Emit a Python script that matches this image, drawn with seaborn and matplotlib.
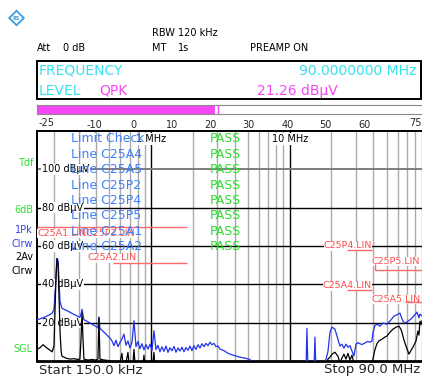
import matplotlib
matplotlib.use("Agg")
import matplotlib.pyplot as plt
import matplotlib.transforms as mtransforms
from matplotlib.patches import Rectangle, Polygon
import pandas as pd
import seaborn as sns

# ---------------- receiver readout ----------------
rbw_label = "RBW 120 kHz"
att_label = ("Att", "0 dB")
mt_label = ("MT", "1s")
preamp_label = "PREAMP ON"
marker_freq_text = "90.0000000 MHz"
marker_detector = "QPK"
marker_level = 21.26          # dBµV, also drives the level bar
marker_level_max = 22.0       # max-hold tick on the level bar
bar_scale_ticks = [-20, -10, 0, 10, 20, 30, 40, 50, 60, 70]
bar_scale_labels = ["", "-10", "0", "10", "20", "30", "40", "50", "60", ""]
bar_range = (-25, 75)

# ---------------- limit check table ----------------
check_rows = ["Limit Check", "Line C25A4", "Line C25A5", "Line C25P2",
              "Line C25P4", "Line C25P5", "Line C25A1", "Line C25A2"]
check_results = ["PASS", "PASS", "PASS", "PASS", "PASS", "PASS", "PASS", "PASS"]

# ---------------- axes grid ----------------
level_grid = [20, 40, 60, 80, 100]
level_grid_labels = ["20 dBµV", "40 dBµV", "60 dBµV", "80 dBµV", "100 dBµV"]
freq_grid_minor = [0.2, 0.3, 0.4, 0.5, 0.6, 0.7, 0.8, 0.9,
                   2, 3, 4, 5, 6, 7, 8, 9,
                   20, 30, 40, 50, 60, 70, 80, 90]
freq_grid_major = [1, 10]
freq_grid_major_labels = ["1 MHz", "10 MHz"]

# ---------------- limit lines (MHz, dBµV) ----------------
lim_c25a1_freq = [0.15, 1.8]
lim_c25a1_level = [70, 70]
lim_c25a2_freq = [0.53, 1.8]
lim_c25a2_level = [51, 51]
lim_c25p4_freq = [26.0, 39.2]
lim_c25p4_level = [57.8, 57.8]
lim_c25a4_freq = [26.0, 39.2]
lim_c25a4_level = [36.9, 36.9]
lim_c25p5_freq = [41.2, 41.2, 90]
lim_c25p5_level = [50.5, 47.4, 47.4]
lim_c25a5_freq = [67.8, 90]
lim_c25a5_level = [30.7, 30.7]

# ---------------- traces: 1Pk Clrw (peak) ----------------
peak_freq_mhz = [
    0.150, 0.158, 0.166, 0.174, 0.183, 0.193, 0.199, 0.202, 0.206, 0.209,
    0.213, 0.216, 0.220, 0.227, 0.235, 0.243, 0.251, 0.260, 0.268, 0.277,
    0.287, 0.296, 0.306, 0.312, 0.317, 0.322, 0.327, 0.339, 0.350, 0.362,
    0.374, 0.387, 0.400, 0.413, 0.420, 0.427, 0.442, 0.457, 0.472, 0.488,
    0.504, 0.521, 0.539, 0.557, 0.576, 0.595, 0.615, 0.636, 0.658, 0.680,
    0.703, 0.727, 0.751, 0.777, 0.803, 0.830, 0.858, 0.887, 0.917, 0.948,
    0.980, 1.013, 1.047, 1.083, 1.119, 1.157, 1.196, 1.237, 1.279, 1.322,
    1.366, 1.413, 1.460, 1.510, 1.561, 1.613, 1.668, 1.724, 1.783, 1.843,
    1.905, 1.970, 2.036, 2.105, 2.176, 2.250, 2.326, 2.404, 2.486, 2.570,
    2.657, 2.747, 2.839, 2.935, 3.034, 3.137, 3.352, 3.583, 3.829, 4.092,
    4.373, 4.752, 5.164, 5.424,
    13.09, 13.31, 13.53, 14.95, 15.20, 15.45, 17.36, 18.87, 19.50, 20.16,
    21.19, 22.27, 23.02, 23.80, 24.61, 25.44, 26.30, 27.19, 28.11, 29.05,
    30.04, 31.05, 32.10, 33.20, 34.88, 36.40, 37.91, 39.19, 39.85, 41.19,
    42.58, 44.76, 47.04, 50.27, 52.84, 56.47, 60.35, 62.39, 64.49, 66.68,
    70.08, 73.66, 78.73, 82.74, 85.55, 86.98, 90.0,
]
peak_level_dbuv = [
    21.5, 22.0, 22.6, 23.2, 24.0, 25.0, 27.0, 33.0, 45.0, 53.5,
    52.5, 42.0, 31.0, 27.5, 27.0, 26.5, 26.0, 25.4, 24.9, 24.3,
    23.8, 23.2, 22.8, 24.5, 27.0, 24.0, 21.5, 21.0, 20.4, 19.8,
    19.2, 18.6, 18.0, 17.4, 23.0, 17.0, 16.0, 15.0, 14.0, 13.0,
    12.0, 10.5, 8.0, 10.8, 7.5, 9.6, 11.5, 14.0, 8.2, 10.5,
    6.8, 9.8, 21.0, 7.5, 10.2, 6.4, 9.0, 5.8, 8.6, 6.2,
    8.8, 5.5, 15.8, 6.0, 8.2, 4.8, 7.4, 5.0, 7.8, 4.5,
    6.9, 5.3, 7.6, 4.6, 6.8, 5.2, 7.2, 4.8, 7.0, 5.6,
    7.8, 5.4, 8.0, 6.0, 8.5, 6.8, 9.0, 7.5, 9.2, 8.0,
    9.8, 8.5, 9.2, 7.5, 7.8, 6.2, 5.4, 4.0, 3.2, 2.6,
    2.0, 1.5, 0.8, -5.0,
    -5.0, 17.0, -5.0, -5.0, 12.5, -5.0, -5.0, 5.0, 15.0, 17.7,
    16.6, 11.4, 7.8, 8.8, 6.7, 8.8, 7.2, 8.0, 5.2, 2.6,
    8.8, 9.6, 9.0, 8.6, 9.4, 10.2, 9.8, 10.4, 15.0, 18.5,
    19.2, 18.2, 19.8, 19.2, 20.8, 23.4, 24.4, 25.0, 22.0, 19.8,
    20.3, 21.5, 23.5, 25.5, 22.5, 24.5, 23.5,
]

# ---------------- traces: 2Av Clrw (average) ----------------
avg_freq_mhz = [
    0.150, 0.158, 0.166, 0.174, 0.183, 0.193, 0.199, 0.202, 0.206, 0.209,
    0.213, 0.216, 0.220, 0.224, 0.227, 0.235, 0.243, 0.260, 0.277, 0.296,
    0.306, 0.312, 0.317, 0.322, 0.327, 0.350, 0.374, 0.400, 0.413, 0.420,
    0.427, 0.457, 0.488, 0.521, 0.595, 0.615, 0.625, 0.658, 0.680, 0.691,
    0.739, 0.751, 0.764, 0.874, 0.887, 0.900, 1.030, 1.047, 1.065,
    18.0, 18.87, 19.50, 20.16, 21.19, 22.27, 23.02, 23.80, 24.61, 25.44,
    26.30, 27.19, 28.11, 29.05, 30.04, 38.5, 39.85, 41.19, 42.58, 44.02,
    46.27, 48.63, 50.27, 52.84, 55.54, 58.39, 61.36, 63.44, 64.49, 66.68,
    68.93, 71.26, 72.44, 74.90, 77.43, 81.39, 84.14, 85.55, 86.98, 88.45,
    90.0,
]
avg_level_dbuv = [
    6.0, 7.0, 8.5, 7.2, 6.0, 4.8, 8.0, 25.0, 45.0, 53.5,
    50.0, 35.0, 15.0, 5.0, 2.5, 2.0, 1.5, 1.0, 1.2, 0.8,
    1.0, 12.0, 25.0, 12.0, 1.0, 0.5, 0.8, 0.5, 1.0, 22.5,
    1.0, 0.5, 0.3, -1.0, -1.0, 4.0, -1.0, -1.0, 4.5, -1.0,
    -1.0, 6.0, -1.0, -1.0, 3.0, -1.0, -1.0, 4.5, -3.0,
    -3.0, 1.0, 2.0, 3.5, 4.6, 2.5, -1.0, 1.5, 3.6, 1.0,
    4.0, 0.5, 3.0, -1.0, -3.0, -3.0, 1.0, 6.0, 9.0, 10.5,
    11.4, 12.5, 13.0, 15.0, 16.6, 17.6, 18.2, 16.5, 15.0, 11.0,
    7.8, 5.0, 3.6, 5.5, 7.2, 10.4, 15.6, 13.5, 20.8, 19.0,
    21.0,
]

# ---------------- colours ----------------
CYAN = "#35e2f2"
MAGENTA = "#f548f5"
TEXT_BLUE = "#3f80ff"
GREEN = "#2fdc2f"
RED = "#ff4a4a"
RED_LINE = "#ff6a6a"
TRACE_BLUE = "#2233ee"
GRID_GREY = "#ababab"

sns.set_style("white")
plt.rcParams["font.family"] = ["DejaVu Sans"]
plt.rcParams["axes.unicode_minus"] = False

W, H = 422, 377
fig = plt.figure(figsize=(W / 100, H / 100), dpi=100)
fig.patch.set_facecolor("white")


def fx(x):
    return x / W


def fy(y):
    return 1 - y / H


# ---------------- logo ----------------
cx, cy, r = 16.5, 18.0, 8.5
fig.add_artist(Polygon([(fx(cx - r), fy(cy)), (fx(cx), fy(cy - r)), (fx(cx + r), fy(cy)), (fx(cx), fy(cy + r))],
                       closed=True, transform=fig.transFigure, fc="#3a9ae0", ec="none"))
r2 = 6.0
fig.add_artist(Polygon([(fx(cx - r2), fy(cy)), (fx(cx), fy(cy - r2)), (fx(cx + r2), fy(cy)), (fx(cx), fy(cy + r2))],
                       closed=True, transform=fig.transFigure, fc="white", ec="none"))
fig.text(fx(cx), fy(cy), "RS", fontsize=3.5, color="#3a9ae0", ha="center", va="center", fontweight="bold")

# ---------------- header ----------------
small = dict(fontsize=7, va="center", color="black")
fig.text(fx(152), fy(33), rbw_label, ha="left", **small)
fig.text(fx(37), fy(48), att_label[0], ha="left", **small)
fig.text(fx(63), fy(48), att_label[1], ha="left", **small)
fig.text(fx(152), fy(48), mt_label[0], ha="left", **small)
fig.text(fx(178), fy(48), mt_label[1], ha="left", **small)
fig.text(fx(250), fy(48), preamp_label, ha="left", **small)

fig.add_artist(Rectangle((fx(37), fy(99)), (421 - 37) / W, (99 - 61) / H, transform=fig.transFigure,
                         fill=False, ec="black", lw=1.4))
fig.text(fx(39), fy(71), "FREQUENCY", fontsize=10, color=CYAN, ha="left", va="center")
fig.text(fx(416), fy(71), marker_freq_text, fontsize=10, color=CYAN, ha="right", va="center")
fig.text(fx(39), fy(91), "LEVEL", fontsize=10, color=CYAN, ha="left", va="center")
fig.text(fx(99), fy(91), marker_detector, fontsize=10, color=MAGENTA, ha="left", va="center")
fig.text(fx(257), fy(91), f"{marker_level:.2f} dBµV", fontsize=10, color=MAGENTA, ha="left", va="center")

# ---------------- level bar ----------------
axb = fig.add_axes([fx(37), fy(114), (422 - 37) / W, (114 - 105) / H])
axb.barh(0, marker_level - bar_range[0], left=bar_range[0], height=1.0, color=MAGENTA, edgecolor="none")
axb.axvline(marker_level_max, color=MAGENTA, lw=1.0)
axb.set_xlim(*bar_range)
axb.set_ylim(-0.5, 0.5)
axb.set_yticks([])
axb.set_xticks(bar_scale_ticks)
axb.set_xticklabels(bar_scale_labels)
axb.tick_params(axis="x", length=2.5, width=0.8, pad=1.5, labelsize=7, color="#555555")
for s in axb.spines.values():
    s.set_color("#8a8a8a")
    s.set_linewidth(0.8)
bt = mtransforms.blended_transform_factory(axb.transData, axb.transAxes)
axb.text(bar_range[0] + 0.3, -1.0, str(bar_range[0]), transform=bt, ha="left", va="center", fontsize=7)
axb.text(bar_range[1], -1.0, str(bar_range[1]), transform=bt, ha="right", va="center", fontsize=7)

# ---------------- spectrum diagram ----------------
ax = fig.add_axes([fx(37), fy(361), (422 - 37) / W, (361 - 131) / H])
ax.set_xscale("log")
ax.set_xlim(0.15, 90)
ax.set_ylim(0, 120)

for f in freq_grid_minor:
    ax.axvline(f, color=GRID_GREY, lw=1.0, zorder=1)
for f in freq_grid_major:
    ax.axvline(f, color="black", lw=1.0, zorder=1.2)
for lv in level_grid:
    if lv == 100:
        ax.axhline(lv, color="#7d7d7d", lw=1.4, zorder=1.3)
    else:
        ax.axhline(lv, color="black", lw=1.0, zorder=1.3)

box = dict(facecolor="white", edgecolor="none", pad=0.4)
ty = mtransforms.blended_transform_factory(ax.transAxes, ax.transData)
for lv, lab in zip(level_grid, level_grid_labels):
    ax.text((42 - 37) / 385, lv, lab, transform=ty, ha="left", va="center", fontsize=7,
            color="black", bbox=box, zorder=3)

tx = mtransforms.blended_transform_factory(ax.transData, ax.transAxes)
for f, lab in zip(freq_grid_major, freq_grid_major_labels):
    ax.text(f, (361 - 139) / 230, lab, transform=tx, ha="center", va="center", fontsize=7,
            color="black", bbox=box, zorder=3)

# limit lines
for fr, lv in [(lim_c25a1_freq, lim_c25a1_level), (lim_c25a2_freq, lim_c25a2_level),
               (lim_c25p4_freq, lim_c25p4_level), (lim_c25a4_freq, lim_c25a4_level),
               (lim_c25p5_freq, lim_c25p5_level), (lim_c25a5_freq, lim_c25a5_level)]:
    ax.plot(fr, lv, color=RED_LINE, lw=1.0, zorder=3.5, solid_capstyle="butt")


def apx(x, y):
    return (x - 37) / 385, (361 - y) / 230


red_labels = [("C25A1.LINC25P2.LIN", 37, 234, "left"),
              ("C25A2.LIN", 88, 258, "left"),
              ("C25P4.LIN", 372, 246, "right"),
              ("C25A4.LIN", 372, 286, "right"),
              ("C25P5.LIN", 372, 261, "left"),
              ("C25A5.LIN", 372, 299, "left")]
for txt, x, y, ha in red_labels:
    ax.text(*apx(x, y), txt, transform=ax.transAxes, ha=ha, va="center", fontsize=6.8,
            color=RED, bbox=dict(facecolor="white", edgecolor="none", pad=0.0), zorder=3)

# traces
peak_df = pd.DataFrame({"freq": peak_freq_mhz, "level": peak_level_dbuv})
avg_df = pd.DataFrame({"freq": avg_freq_mhz, "level": avg_level_dbuv})
sns.lineplot(data=peak_df, x="freq", y="level", ax=ax, color=TRACE_BLUE, lw=0.9,
             estimator=None, sort=False, zorder=4)
sns.lineplot(data=avg_df, x="freq", y="level", ax=ax, color="black", lw=0.9,
             estimator=None, sort=False, zorder=4.1)
ax.set_xlim(0.15, 90)
ax.set_ylim(0, 120)
ax.set_xlabel("")
ax.set_ylabel("")
ax.tick_params(which="both", bottom=False, left=False, top=False, right=False,
               labelbottom=False, labelleft=False)

# limit check table
for i, (row, res) in enumerate(zip(check_rows, check_results)):
    y = 139 + i * 15.4
    ax.text(*apx(71, y), row, transform=ax.transAxes, ha="left", va="center", fontsize=9,
            color=TEXT_BLUE, zorder=5)
    ax.text(*apx(210, y), res, transform=ax.transAxes, ha="left", va="center", fontsize=9,
            color=GREEN, zorder=5)

for side in ["left", "top", "bottom"]:
    ax.spines[side].set_color("black")
    ax.spines[side].set_linewidth(1.4)
ax.spines["bottom"].set_linewidth(2.0)
ax.spines["right"].set_visible(False)

# ---------------- trace / status labels ----------------
side_labels = [("Tdf", 163, GREEN), ("6dB", 210, GREEN), ("1Pk", 230, "#3344ee"),
               ("Clrw", 244, "#3344ee"), ("2Av", 257, "black"), ("Clrw", 271, "black"),
               ("SGL", 349, GREEN)]
for txt, y, col in side_labels:
    fig.text(fx(33), fy(y), txt, ha="right", va="center", fontsize=7, color=col)

fig.text(fx(39), fy(370), "Start 150.0 kHz", ha="left", va="center", fontsize=9.5)
fig.text(fx(420), fy(370), "Stop 90.0 MHz", ha="right", va="center", fontsize=9.5)

fig.savefig("out.png", dpi=100)
